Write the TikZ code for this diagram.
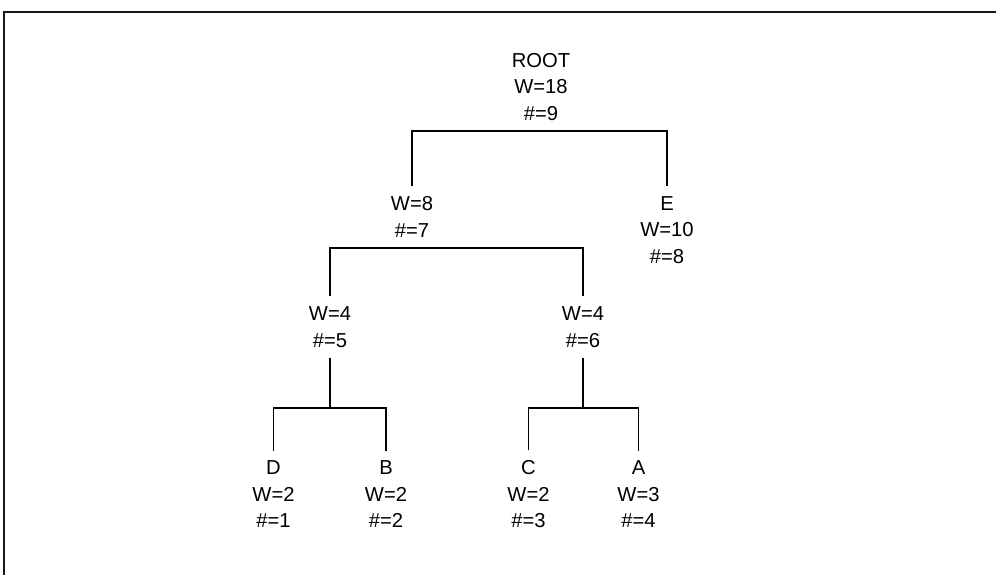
\documentclass[tikz,border=0pt]{standalone}
\usepackage{fontspec}
\setmainfont{Liberation Sans}
\usetikzlibrary{positioning}

\begin{document}
\begin{tikzpicture}[
  wnode/.style={align=center, font=\fontsize{11.5}{15.1}\selectfont, inner xsep=2pt, inner ysep=0.2cm},
  link/.style={line width=1pt},
  frame/.style={line width=1.5pt, black!90},
]
\useasboundingbox (0,0) rectangle (19.92,11.5);

% === FRAME ===
\draw[frame] (0.08,0) |- (19.92,11.26);

% === NODES ===
\node[wnode] (root) at (10.82, 9.76) {ROOT\\W=18\\\#=9};
\node[wnode] (w8) at (8.24, 7.16) {W=8\\\#=7};
\node[wnode] (e) at (13.34, 6.90) {E\\W=10\\\#=8};
\node[wnode] (w4l) at (6.60, 4.96) {W=4\\\#=5};
\node[wnode] (w4r) at (11.66, 4.96) {W=4\\\#=6};
\node[wnode] (d) at (5.47, 1.61) {D\\W=2\\\#=1};
\node[wnode] (b) at (7.72, 1.61) {B\\W=2\\\#=2};
\node[wnode] (c) at (10.57, 1.61) {C\\W=2\\\#=3};
\node[wnode] (a) at (12.77, 1.61) {A\\W=3\\\#=4};

\coordinate (jl) at (6.60, 3.34);
\coordinate (jr) at (11.66, 3.34);

% === LINKS ===
\draw[link] (w8.north) |- (root.south) -| (e.north);
\draw[link] (w4l.north) |- (w8.south) -| (w4r.north);
\draw[link] (w4l.south) -- (jl);
\draw[link] (d.north) |- (jl) -| (b.north);
\draw[link] (w4r.south) -- (jr);
\draw[link] (c.north) |- (jr) -| (a.north);
\end{tikzpicture}
\end{document}
